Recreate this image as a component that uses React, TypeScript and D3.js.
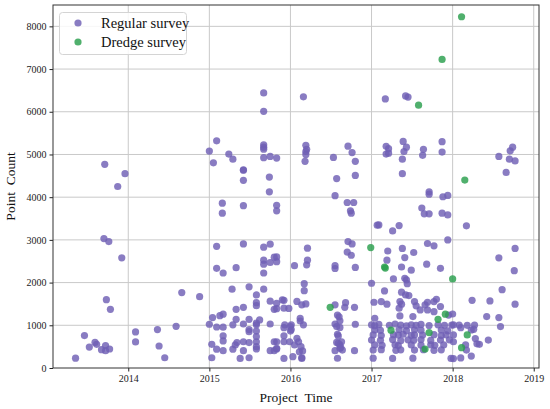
import { useEffect, useRef } from "react"
import * as d3 from "d3"

// [decimal year, point count]
const regular2013: [number, number][] = [
  [2013.35, 230], [2013.46, 760], [2013.52, 490], [2013.59, 600], [2013.61, 555],
  [2013.67, 430], [2013.70, 3030], [2013.71, 4770], [2013.72, 405], [2013.72, 525],
  [2013.73, 1600], [2013.76, 2960], [2013.77, 445], [2013.78, 1375], [2013.87, 4250],
  [2013.92, 2580], [2013.96, 4550],
]

const regular2014: [number, number][] = [
  [2014.09, 845], [2014.09, 610], [2014.36, 900], [2014.38, 515], [2014.45, 240],
  [2014.59, 975], [2014.66, 1765], [2014.88, 1670],
]

const regular2015: [number, number][] = [
  [2015.00, 5080], [2015.05, 4805], [2015.09, 5320], [2015.24, 5010], [2015.29, 4890],
  [2015.42, 4640], [2015.42, 4630], [2015.42, 4395], [2015.16, 3860], [2015.16, 3625],
  [2015.42, 3800], [2015.67, 6440], [2015.67, 6010], [2015.67, 5225], [2015.67, 5170],
  [2015.67, 5125], [2015.67, 4925], [2015.75, 4955], [2015.83, 4915], [2015.74, 4470],
  [2015.74, 4125], [2015.83, 3810], [2015.83, 3680],
  [2015.09, 2850], [2015.42, 2905], [2015.09, 2335], [2015.17, 2225], [2015.33, 2350],
  [2015.67, 2830], [2015.75, 2900], [2015.67, 2525], [2015.67, 2430], [2015.75, 2470],
  [2015.67, 2225], [2015.80, 2595], [2015.28, 1845], [2015.49, 1900], [2015.67, 1845],
  [2015.58, 1710], [2015.58, 1530], [2015.58, 1460], [2015.75, 1565], [2015.80, 1375],
  [2015.33, 1375], [2015.42, 1420], [2015.04, 1180], [2015.13, 1225], [2015.17, 1260],
  [2015.33, 1140], [2015.49, 1140], [2015.00, 1025], [2015.09, 960], [2015.17, 955],
  [2015.29, 1010], [2015.42, 1030], [2015.58, 1010], [2015.75, 1030], [2015.17, 755],
  [2015.17, 635], [2015.49, 900], [2015.49, 850], [2015.58, 865], [2015.58, 735],
  [2015.58, 615], [2015.58, 500], [2015.58, 445], [2015.03, 555], [2015.09, 440],
  [2015.17, 405], [2015.29, 440], [2015.32, 540], [2015.34, 595], [2015.42, 615],
  [2015.42, 405], [2015.49, 595], [2015.49, 240], [2015.38, 225], [2015.03, 240],
  [2015.75, 405], [2015.80, 405], [2015.80, 615], [2015.62, 1125], [2015.58, 1050],
  [2015.83, 2490], [2015.90, 1595], [2015.98, 1395],
]

const regular2016: [number, number][] = [
  [2016.16, 6350], [2016.19, 5215], [2016.20, 5120], [2016.19, 5070], [2016.19, 5000],
  [2016.18, 4840], [2016.21, 2805], [2016.21, 2525], [2016.20, 2415], [2016.05, 2395],
  [2015.83, 2600], [2016.17, 1975], [2016.17, 1810], [2016.08, 1560], [2016.14, 1480],
  [2016.19, 1500], [2015.92, 1585], [2015.83, 1515], [2015.83, 1390], [2015.92, 1400],
  [2016.12, 1165], [2016.12, 1100], [2015.93, 1010], [2016.01, 1010], [2016.16, 1010],
  [2016.01, 900], [2015.92, 945], [2015.92, 755], [2015.83, 615], [2015.83, 445],
  [2015.92, 615], [2015.99, 615], [2016.05, 540], [2016.08, 695], [2016.10, 615],
  [2016.11, 380], [2016.03, 265], [2015.92, 225], [2016.14, 225], [2015.83, 460],
  [2016.00, 970], [2016.00, 865], [2016.13, 500], [2016.15, 400], [2016.14, 240],
  [2016.53, 4930], [2016.57, 4435], [2016.55, 4035], [2016.71, 5195], [2016.76, 5045],
  [2016.80, 4840], [2016.80, 4510], [2016.70, 3875], [2016.78, 3875], [2016.74, 3680],
  [2016.75, 3625], [2016.55, 2395], [2016.55, 2330], [2016.71, 2960], [2016.76, 2905],
  [2016.70, 2715], [2016.75, 2640], [2016.80, 2355], [2016.55, 1480], [2016.58, 1240],
  [2016.61, 1105], [2016.68, 1530], [2016.67, 1420], [2016.79, 1420], [2016.55, 1030],
  [2016.57, 970], [2016.61, 950], [2016.80, 1025], [2016.58, 790], [2016.57, 600],
  [2016.61, 540], [2016.63, 615], [2016.64, 420], [2016.55, 405], [2016.61, 460],
  [2016.59, 580], [2016.79, 405], [2016.58, 228], [2016.62, 485], [2016.60, 1200],
  [2016.59, 750],
]

const regular2017: [number, number][] = [
  [2017.07, 3345], [2017.17, 6300], [2017.42, 6370], [2017.45, 6345], [2017.18, 5190],
  [2017.21, 5135], [2017.18, 5010], [2017.21, 5030], [2017.39, 5305], [2017.43, 5170],
  [2017.40, 5070], [2017.38, 4890], [2017.38, 4550], [2017.64, 5120], [2017.63, 4980],
  [2017.87, 5300], [2017.87, 5055], [2017.71, 4125], [2017.71, 4070], [2017.88, 4010],
  [2017.94, 4040], [2017.62, 3745], [2017.65, 3610], [2017.71, 3610], [2017.87, 3625],
  [2017.94, 3585], [2017.09, 3350], [2017.26, 3210], [2017.34, 3335], [2017.94, 3000],
  [2017.69, 2915], [2017.77, 2860], [2017.20, 2740], [2017.38, 2800], [2017.52, 2705],
  [2017.19, 2525], [2017.41, 2585], [2017.37, 2365], [2017.49, 2290], [2017.68, 2430],
  [2017.85, 2335],
  [2017.00, 1985], [2017.27, 2085], [2017.41, 2100], [2017.43, 2065], [2017.44, 1975],
  [2017.16, 1805], [2017.37, 1775], [2017.42, 1710], [2017.46, 1695], [2017.03, 1540],
  [2017.12, 1555], [2017.19, 1495], [2017.35, 1555], [2017.37, 1495], [2017.34, 1400],
  [2017.53, 1555], [2017.55, 1455], [2017.69, 1540], [2017.77, 1555], [2017.80, 1610],
  [2017.85, 1440], [2017.69, 1360], [2017.95, 1240], [2017.77, 1320], [2017.35, 1220],
  [2017.51, 1205], [2017.60, 1360], [2017.66, 1480], [2017.04, 1165],
  [2017.00, 1010], [2017.04, 990], [2017.09, 1020], [2017.22, 1000], [2017.29, 1030],
  [2017.36, 1005], [2017.43, 985], [2017.49, 1010], [2017.55, 1000], [2017.61, 1020],
  [2017.71, 995], [2017.82, 1010], [2017.90, 1000], [2017.99, 1005],
  [2017.04, 890], [2017.11, 880], [2017.34, 900], [2017.43, 875], [2017.53, 895],
  [2017.61, 885], [2017.86, 890], [2017.94, 870],
  [2017.02, 775], [2017.12, 760], [2017.27, 780], [2017.33, 770], [2017.39, 790],
  [2017.49, 765], [2017.53, 775], [2017.63, 770], [2017.77, 780], [2017.86, 760],
  [2017.92, 775],
  [2017.00, 655], [2017.11, 650], [2017.26, 665], [2017.36, 640], [2017.45, 660],
  [2017.52, 650], [2017.61, 665], [2017.73, 645], [2017.85, 655], [2017.96, 660],
  [2017.04, 540], [2017.13, 530], [2017.29, 545], [2017.33, 525], [2017.49, 540],
  [2017.61, 535], [2017.73, 545], [2017.78, 530], [2017.89, 540],
  [2017.02, 420], [2017.12, 430], [2017.30, 415], [2017.36, 425], [2017.53, 420],
  [2017.64, 430], [2017.77, 415], [2017.86, 425],
  [2017.02, 230], [2017.26, 225], [2017.51, 230], [2017.98, 225],
]

const regular2018: [number, number][] = [
  [2018.74, 5170], [2018.71, 5085], [2018.57, 4955], [2018.70, 4890], [2018.77, 4850],
  [2018.66, 4580], [2018.17, 3330], [2018.77, 2800], [2018.57, 2580], [2018.76, 2280],
  [2018.61, 1835], [2018.46, 1570], [2018.24, 1585], [2018.77, 1495], [2018.42, 1205],
  [2018.57, 1180], [2018.59, 970], [2018.00, 1265], [2018.10, 945], [2018.08, 1005],
  [2018.18, 1000], [2018.27, 1005], [2018.23, 890], [2018.26, 905], [2018.28, 690],
  [2018.30, 565], [2018.33, 555], [2018.44, 655], [2018.16, 540], [2018.17, 420],
  [2018.23, 280], [2018.10, 235], [2018.01, 220], [2018.01, 1010], [2018.01, 775],
  [2018.01, 615],
]

const dredgePoints: [number, number][] = [
  [2016.49, 1420], [2016.99, 2820], [2017.16, 2365], [2017.17, 2340], [2017.24, 885],
  [2017.58, 6155], [2017.66, 445], [2017.71, 830], [2017.82, 1140], [2017.87, 7225],
  [2017.91, 1260], [2018.00, 2085], [2018.11, 8225], [2018.11, 475], [2018.15, 4400],
  [2018.18, 775],
]

const regularPoints = [
  ...regular2013, ...regular2014, ...regular2015,
  ...regular2016, ...regular2017, ...regular2018,
]

const xTicks = [2014, 2015, 2016, 2017, 2018, 2019]
const yTicks = [0, 1000, 2000, 3000, 4000, 5000, 6000, 7000, 8000]

const W = 550
const H = 409
const margin = { left: 53, right: 11, top: 5, bottom: 41 }
const font = "'Liberation Serif', 'DejaVu Serif', 'Times New Roman', serif"

const regularColor = "#6f5fb5"
const dredgeColor = "#2a9f4d"

export default function App() {
  const ref = useRef<SVGSVGElement | null>(null)

  useEffect(() => {
    const svg = d3.select(ref.current)
    svg.selectAll("*").remove()

    const x = d3.scaleLinear()
      .domain([2013.072, 2019.065])
      .range([margin.left, W - margin.right])

    const y = d3.scaleLinear()
      .domain([0, 8500])
      .range([H - margin.bottom, margin.top])

    const g = svg.append("g")

    // grid
    g.selectAll("line.gx")
      .data(xTicks)
      .enter()
      .append("line")
      .attr("x1", d => x(d))
      .attr("x2", d => x(d))
      .attr("y1", margin.top)
      .attr("y2", H - margin.bottom)
      .attr("stroke", "#c9c9c9")
      .attr("stroke-width", 1)

    g.selectAll("line.gy")
      .data(yTicks.slice(1))
      .enter()
      .append("line")
      .attr("x1", margin.left)
      .attr("x2", W - margin.right)
      .attr("y1", d => y(d))
      .attr("y2", d => y(d))
      .attr("stroke", "#c9c9c9")
      .attr("stroke-width", 1)

    // points
    const drawPoints = (data: [number, number][], color: string) => {
      g.append("g")
        .selectAll("circle")
        .data(data)
        .enter()
        .append("circle")
        .attr("cx", d => x(d[0]))
        .attr("cy", d => y(d[1]))
        .attr("r", 3.6)
        .attr("fill", color)
        .attr("fill-opacity", 0.82)
    }
    drawPoints(regularPoints, regularColor)
    drawPoints(dredgePoints, dredgeColor)

    // axes
    const xAxis = d3.axisBottom(x)
      .tickValues(xTicks)
      .tickFormat(d => String(d))
      .tickSize(3.5)
      .tickPadding(3)
    const yAxis = d3.axisLeft(y)
      .tickValues(yTicks)
      .tickFormat(d => String(d))
      .tickSize(3.5)
      .tickPadding(3)

    const gx = g.append("g")
      .attr("transform", `translate(0,${H - margin.bottom})`)
      .call(xAxis)
    const gy = g.append("g")
      .attr("transform", `translate(${margin.left},0)`)
      .call(yAxis)

    for (const ax of [gx, gy]) {
      ax.select(".domain").remove()
      ax.selectAll("line").attr("stroke", "#222")
      ax.selectAll("text")
        .attr("fill", "#222")
        .style("font-family", font)
        .style("font-size", "10px")
    }

    // frame
    g.append("rect")
      .attr("x", margin.left)
      .attr("y", margin.top)
      .attr("width", W - margin.left - margin.right)
      .attr("height", H - margin.top - margin.bottom)
      .attr("fill", "none")
      .attr("stroke", "#333")
      .attr("stroke-width", 1)

    // axis labels
    g.append("text")
      .attr("x", (margin.left + W - margin.right) / 2)
      .attr("y", 402)
      .attr("text-anchor", "middle")
      .style("font-family", font)
      .style("font-size", "13.5px")
      .attr("fill", "#111")
      .text("Project\u00a0\u00a0Time")

    g.append("text")
      .attr("transform", `translate(15,${(margin.top + H - margin.bottom) / 2}) rotate(-90)`)
      .attr("text-anchor", "middle")
      .style("font-family", font)
      .style("font-size", "13.5px")
      .attr("fill", "#111")
      .text("Point\u00a0\u00a0Count")

    // legend
    const lg = g.append("g")
    lg.append("rect")
      .attr("x", 59.5)
      .attr("y", 12.5)
      .attr("width", 127)
      .attr("height", 42)
      .attr("rx", 3)
      .attr("fill", "#fff")
      .attr("fill-opacity", 0.85)
      .attr("stroke", "#d4d4d4")

    const items = [
      { label: "Regular survey", color: regularColor },
      { label: "Dredge survey", color: dredgeColor },
    ]
    items.forEach((it, i) => {
      const cy = 23 + i * 19
      lg.append("circle")
        .attr("cx", 78)
        .attr("cy", cy)
        .attr("r", 3.6)
        .attr("fill", it.color)
        .attr("fill-opacity", 0.82)
      lg.append("text")
        .attr("x", 101)
        .attr("y", cy + 4.5)
        .style("font-family", font)
        .style("font-size", "14.5px")
        .attr("fill", "#111")
        .text(it.label)
    })
  }, [])

  return (
    <svg
      ref={ref}
      width={W}
      height={H}
      style={{ position: "absolute", left: 0, top: 0, background: "#fff" }}
    />
  )
}
